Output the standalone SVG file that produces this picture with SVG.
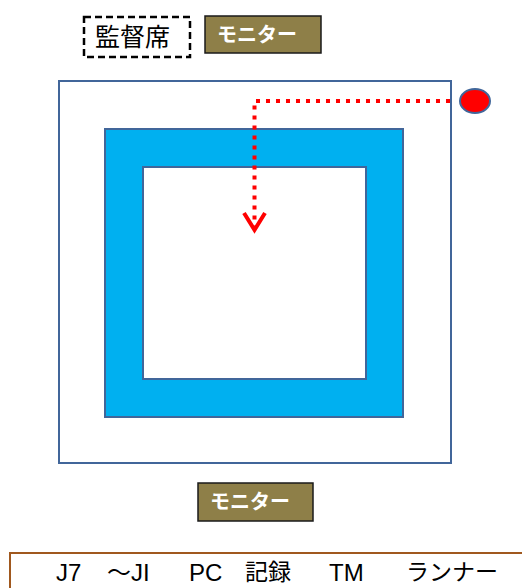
<svg xmlns="http://www.w3.org/2000/svg" width="522" height="588" viewBox="0 0 522 588">
<style>
.mon{fill:#8E7F48;stroke:#1a1a1a;stroke-width:1.5}
.mt{font-family:"Noto Sans CJK JP","Liberation Sans",sans-serif;font-weight:bold;font-size:20px;fill:#fff}
.bt{font-family:"Liberation Sans","Noto Sans CJK JP",sans-serif;font-size:24px;fill:#000}
.bj{font-family:"Noto Sans CJK JP",sans-serif;font-size:23px;fill:#000}
</style>
<rect width="522" height="588" fill="#fff"/>
<g id="outer"><rect x="59" y="81" width="392" height="382" fill="#fff" stroke="#41669A" stroke-width="2"/></g>
<g id="track"><rect x="105" y="129" width="298" height="288" fill="#00B0F0" stroke="#41669A" stroke-width="2"/>
<rect x="143" y="167" width="223" height="212" fill="#fff" stroke="#41669A" stroke-width="2"/></g>
<g id="supervisor"><rect x="84" y="17" width="106" height="40" fill="#fff" stroke="#000" stroke-width="2.5" stroke-dasharray="7,4"/>
<text x="95" y="46" font-family="Noto Sans CJK JP,sans-serif" font-size="25">監督席</text></g>
<g id="monitor-top"><rect class="mon" x="205" y="16" width="116" height="37"/><text class="mt" x="217" y="42">モニター</text></g>
<g id="monitor-bottom"><rect class="mon" x="198" y="483" width="115" height="38"/><text class="mt" x="210" y="509">モニター</text></g>
<g id="runner"><ellipse cx="475" cy="101" rx="15" ry="12" fill="#FF0000" stroke="#41669A" stroke-width="2"/></g>
<g id="connectors"><path d="M450 101 H254.5 V228" fill="none" stroke="#FF0000" stroke-width="4" stroke-dasharray="4,6"/>
<path d="M244 213 L254.5 230 L265 213" fill="none" stroke="#FF0000" stroke-width="4"/></g>
<g id="legend"><rect x="10" y="553" width="530" height="60" fill="#fff" stroke="#A0581E" stroke-width="2"/>
<text class="bt" x="56" y="581">J7</text>
<text class="bt" x="107" y="581">～JI</text>
<text class="bt" x="189" y="581">PC</text>
<text class="bj" x="245" y="580">記録</text>
<text class="bt" x="329" y="581">TM</text>
<text class="bj" x="406" y="580">ランナー</text></g>
</svg>
